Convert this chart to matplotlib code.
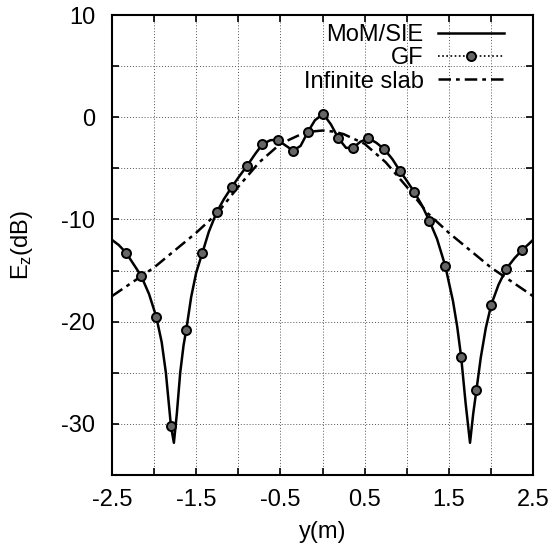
import numpy as np
import matplotlib
matplotlib.use("Agg")
import matplotlib.pyplot as plt
from matplotlib.ticker import MultipleLocator, FixedLocator
from matplotlib.lines import Line2D

plt.rcParams['font.family'] = ['Liberation Sans', 'DejaVu Sans']
plt.rcParams['mathtext.fontset'] = 'custom'
plt.rcParams['mathtext.rm'] = 'Liberation Sans'
plt.rcParams['mathtext.it'] = 'Liberation Sans'

# MoM/SIE field profile (dB) along y (m)
mom_y = [-2.5, -2.42, -2.332, -2.25, -2.155, -2.06, -1.975, -1.91, -1.86, -1.80,
         -1.765, -1.73, -1.69, -1.65, -1.618, -1.56, -1.50, -1.429, -1.35, -1.256,
         -1.17, -1.08, -0.99, -0.895, -0.80, -0.714, -0.62, -0.534, -0.45, -0.349,
         -0.26, -0.172, -0.09, 0.008, 0.10, 0.189, 0.28, 0.366, 0.45, 0.546,
         0.64, 0.735, 0.83, 0.920, 1.0, 1.092, 1.18, 1.269, 1.36, 1.458,
         1.55, 1.60, 1.647, 1.70, 1.752, 1.79, 1.828, 1.88, 1.94, 2.004,
         2.09, 2.185, 2.28, 2.370, 2.45, 2.5]
mom_db = [-12.0, -12.5, -13.27, -14.3, -15.5, -17.3, -19.5, -22.0, -25.0, -30.2,
          -31.85, -29.0, -25.0, -22.3, -20.8, -17.6, -15.2, -13.33, -11.2, -9.28,
          -8.0, -6.86, -5.8, -4.74, -3.6, -2.65, -2.25, -2.2, -2.7, -3.27,
          -2.8, -1.41, -0.3, 0.33, -0.7, -2.06, -3.0, -2.97, -2.4, -2.06,
          -2.5, -3.14, -4.1, -5.26, -6.2, -7.35, -8.6, -10.13, -11.9, -14.54,
          -18.0, -20.5, -23.47, -28.0, -31.85, -29.0, -26.7, -23.5, -20.6, -18.34,
          -16.4, -14.8, -13.8, -13.0, -12.4, -12.0]

# Green's function samples
gf_y = [-2.332, -2.155, -1.975, -1.80, -1.618, -1.429, -1.256, -1.080, -0.895,
        -0.714, -0.534, -0.349, -0.172, 0.008, 0.189, 0.366, 0.546, 0.735,
        0.920, 1.092, 1.269, 1.458, 1.647, 1.828, 2.004, 2.185, 2.370]
gf_db = [-13.27, -15.5, -19.5, -30.2, -20.8, -13.33, -9.28, -6.86, -4.74,
         -2.65, -2.22, -3.27, -1.41, 0.33, -2.06, -2.97, -2.06, -3.14,
         -5.26, -7.35, -10.13, -14.54, -23.47, -26.7, -18.34, -14.8, -13.0]

# Infinite slab reference solution
slab_y = [-2.5, -2.25, -2.0, -1.75, -1.5, -1.25, -1.0, -0.75, -0.5, -0.25, -0.125,
          0.0, 0.125, 0.25, 0.5, 0.75, 1.0, 1.25, 1.5, 1.75, 2.0, 2.25, 2.5]
slab_db = [-17.5, -16.1, -14.7, -13.0, -11.3, -9.4, -6.8, -4.4, -2.6, -1.65, -1.4,
           -1.3, -1.4, -1.65, -2.6, -4.4, -6.8, -9.4, -11.3, -13.0, -14.7, -16.1, -17.5]

x_ticks = [-2.5, -1.5, -0.5, 0.5, 1.5, 2.5]
y_ticks = [10, 0, -10, -20, -30]

fig = plt.figure(figsize=(5.54, 5.55), dpi=100)
ax = fig.add_axes([112 / 554, 1 - 475 / 555, 421 / 554, 460 / 555])

gf_style = dict(color='black', marker='o', markersize=6.5,
                markerfacecolor='#666666', markeredgecolor='black',
                markeredgewidth=1.4)
slab_ls = (0, (5, 2, 1.5, 2))

ax.plot(mom_y, mom_db, color='black', lw=1.8, zorder=3)
ax.plot(gf_y, gf_db, ls='none', zorder=4, **gf_style)
ax.plot(slab_y, slab_db, color='black', lw=1.8, ls=slab_ls, zorder=2)

ax.set_xlim(-2.5, 2.5)
ax.set_ylim(-35, 10)
ax.xaxis.set_major_locator(FixedLocator(x_ticks))
ax.xaxis.set_minor_locator(MultipleLocator(0.5))
ax.yaxis.set_major_locator(FixedLocator(y_ticks))
ax.yaxis.set_minor_locator(MultipleLocator(5))
ax.set_xticklabels([f"{v:g}" for v in x_ticks])
ax.set_yticklabels([f"{v:g}" for v in y_ticks])

ax.tick_params(which='both', direction='in', top=True, right=True,
               length=5, width=1.2, labelsize=17)
ax.tick_params(axis='x', which='major', pad=10)
ax.tick_params(axis='y', which='major', pad=12)

ax.grid(True, which='both', color='#555555', lw=0.7, ls=(0, (1, 2)))
for s in ax.spines.values():
    s.set_linewidth(1.5)

ax.set_xlabel('y(m)', fontsize=17, labelpad=7)
ax.set_ylabel(r'E$_\mathrm{z}$(dB)', fontsize=17, labelpad=19)

handles = [
    Line2D([], [], color='black', lw=1.8),
    Line2D([], [], lw=1.2, ls=(0, (1, 1.5)), **gf_style),
    Line2D([], [], color='black', lw=1.8, ls=slab_ls),
]
labels = ['MoM/SIE', 'GF', 'Infinite slab']
ax.legend(handles, labels, loc='upper right', bbox_to_anchor=(0.931, 0.98),
          markerfirst=False, frameon=False, fontsize=17,
          handlelength=2.8, handletextpad=0.6, labelspacing=0.05,
          borderpad=0, borderaxespad=0)

fig.savefig('out.png', dpi=100)
